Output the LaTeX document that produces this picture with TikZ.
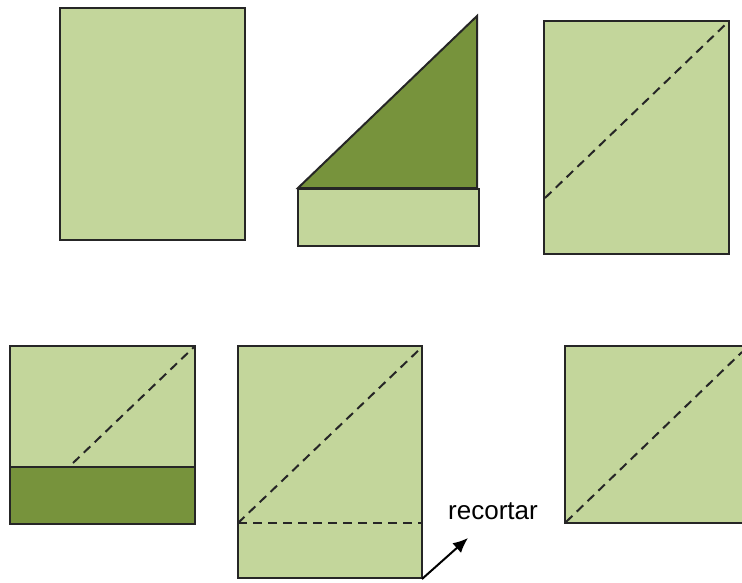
\documentclass[tikz,border=0pt]{standalone}
\usepackage{fontspec}
\setmainfont{Liberation Sans}
\usetikzlibrary{arrows.meta}
\definecolor{lightg}{HTML}{C3D69B}
\definecolor{darkg}{HTML}{77933C}
\begin{document}
\begin{tikzpicture}[x=1pt,y=-1pt,
  sheet/.style={fill=lightg,draw=black!85,line width=2pt,line join=miter},
  fold/.style={fill=darkg,draw=black!85,line width=2pt},
  crease/.style={draw=black!85,line width=2pt,dash pattern=on 9pt off 6pt}]
\useasboundingbox (0,0) rectangle (742,582);
\clip (0,0) rectangle (742,582);
% top row
\draw[sheet] (60,8) rectangle (245,240);
\draw[sheet] (298,189) rectangle (479,246);
\draw[fold] (298,188) -- (477,16) -- (477,188) -- cycle;
\draw[sheet] (544,21) rectangle (729,254);
\draw[crease] (545,198) -- (728,22);
% bottom row
\draw[sheet] (10,346) rectangle (195,467);
\draw[fold] (10,467) rectangle (195,524);
\draw[crease] (73,463) -- (194,347);
\draw[sheet] (238,346) rectangle (422,578);
\draw[crease] (238,523) -- (422,347);
\draw[crease] (238,523) -- (422,523);
\draw[sheet] (565,346) rectangle (760,523);
\draw[crease] (566,522) -- (742,352);
% label and arrow
\node[font=\fontsize{26}{30}\selectfont,inner sep=0pt,anchor=base west] (lbl) at (448,519) {recortar};
\coordinate (corner) at (422,579);
\coordinate (tip) at (468,538);
\draw[line width=2pt,-{Latex[length=15pt,width=13pt]}] (corner) -- (tip);
\end{tikzpicture}
\end{document}
